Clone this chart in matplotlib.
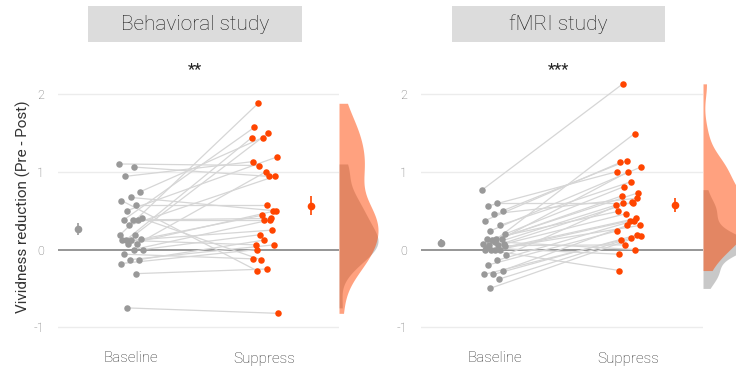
import numpy as np
import matplotlib
matplotlib.use("Agg")
import matplotlib.pyplot as plt
from matplotlib.patches import Rectangle

# paired scores, one entry per participant (baseline[i] <-> suppress[i])
beh_baseline = [1.10, 1.06, 0.94, 0.74, 0.67, 0.63, 0.57, 0.50, 0.40, 0.38,
                0.38, 0.38, 0.31, 0.19, 0.19, 0.12, 0.13, 0.12, 0.12, 0.07,
                0.07, 0.00, 0.00, -0.06, -0.13, -0.13, -0.18, -0.31, -0.75]
beh_suppress = [1.08, 0.94, 1.13, 1.44, 0.50, -0.27, 0.57, 1.19, -0.13, 0.40,
                1.57, 0.38, 0.94, 1.88, 1.50, 1.44, 0.44, 0.25, 0.06, 1.00,
                0.50, 0.19, 0.38, -0.12, 0.12, 0.06, 0.00, -0.25, -0.82]

fmri_baseline = [0.77, 0.60, 0.56, 0.50, 0.46, 0.37, 0.31, 0.24, 0.20, 0.13,
                 0.13, 0.14, 0.12, 0.07, 0.06, 0.06, 0.07, 0.00, 0.00, 0.00,
                 0.00, -0.07, -0.14, -0.20, -0.27, -0.32, -0.32, -0.38, -0.50,
                 0.05, 0.10, 0.02]
fmri_suppress = [2.13, 0.60, 1.00, 1.14, 0.66, 1.12, 0.87, 1.06, 0.81, 1.49,
                 0.49, 1.00, 0.73, 0.69, 0.61, 0.57, 0.46, 0.40, -0.27, 0.37,
                 0.31, 0.60, 0.37, 0.24, 0.31, 0.19, 0.12, 0.15, 0.18, 0.06,
                 0.00, -0.06]

conditions = ["Baseline", "Suppress"]
studies = ["Behavioral study", "fMRI study"]
stars = ["**", "***"]
yticks = [-1, 0, 1, 2]

GREY_PT = "#999999"
ORANGE = "#FF4500"
PAIR = "#d6d6d6"
GRID = "#ececec"
ZERO = "#8e8e8e"
TICK = "#6b6b6b"

plt.rcParams.update({
    "font.family": ["Roboto", "DejaVu Sans"],
    "font.weight": "light",
})

W, H = 736, 368
fig = plt.figure(figsize=(W / 100, H / 100), dpi=100)

YLIM = (-1.15, 2.25)
bottom, top = 339, 74.5            # axes extent in pixels
XLIM = (-0.55, 1.56)


def px(x0, x1):
    return [x0 / W, (H - bottom) / H, (x1 - x0) / W, (bottom - top) / H]


def kde(vals, grid, adjust=0.8):
    vals = np.asarray(vals)
    bw = adjust * vals.std(ddof=1) * len(vals) ** (-1 / 5)
    z = (grid[:, None] - vals[None, :]) / bw
    return np.exp(-0.5 * z ** 2).sum(axis=1)


panels = [
    dict(base=beh_baseline, supp=beh_suppress, ax=(58, 339),
         box=(88, 302), vw=39, ylabel=True),
    dict(base=fmri_baseline, supp=fmri_suppress, ax=(421, 703),
         box=(452, 665), vw=46, ylabel=False),
]

for k, p in enumerate(panels):
    ax = fig.add_axes(px(*p["ax"]))
    base = np.asarray(p["base"])
    supp = np.asarray(p["supp"])
    n = len(base)
    jit = ((np.arange(n) * 0.618034) % 1 - 0.5) * 0.18
    jit2 = ((np.arange(n) * 0.381966 + 0.3) % 1 - 0.5) * 0.2

    for yv in (-1, 1, 2):
        ax.axhline(yv, color=GRID, lw=1.0, zorder=0)
    ax.axhline(0, color=ZERO, lw=1.3, zorder=1)

    for i in range(n):
        ax.plot([0 + jit[i], 1 + jit2[i]], [base[i], supp[i]],
                color=PAIR, lw=0.9, zorder=2)
    ax.scatter(0 + jit, base, s=22, color=GREY_PT, lw=0, zorder=3)
    ax.scatter(1 + jit2, supp, s=22, color=ORANGE, lw=0, zorder=3)

    for xm, vals, c in ((-0.40, base, GREY_PT), (1.35, supp, ORANGE)):
        m = vals.mean()
        se = vals.std(ddof=1) / np.sqrt(len(vals))
        ax.errorbar([xm], [m], yerr=[se], fmt="o", ms=5.5, color=c,
                    ecolor=c, elinewidth=1.2, capsize=0, mew=0, zorder=4)

    ax.set_xlim(*XLIM)
    ax.set_ylim(*YLIM)
    ax.set_xticks([0, 1])
    ax.set_xticklabels(conditions, fontsize=11, color="#333333")
    ax.set_yticks(yticks)
    ax.set_yticklabels([str(t) for t in yticks], fontsize=9, color=TICK)
    ax.tick_params(length=0)
    ax.tick_params(axis="x", pad=9)
    ax.tick_params(axis="y", pad=10)
    for s in ax.spines.values():
        s.set_visible(False)
    ax.patch.set_alpha(0)
    if p["ylabel"]:
        ax.set_ylabel("Vividness reduction (Pre - Post)", fontsize=11,
                      color="#333333", labelpad=2)

    # half violins to the right of the panel
    x0 = p["ax"][1]
    av = fig.add_axes(px(x0, x0 + 60))
    av.set_xlim(0, 60)
    av.set_ylim(*YLIM)
    av.axis("off")
    for vals, c in ((base, "#939393"), (supp, ORANGE)):
        g = np.linspace(vals.min(), vals.max(), 300)
        d = kde(vals, g)
        av.fill_betweenx(g, 0, d / d.max() * p["vw"], color=c, alpha=0.5,
                         lw=0)

    # title box and significance stars
    bx0, bx1 = p["box"]
    fig.patches.append(Rectangle((bx0 / W, (H - 42) / H), (bx1 - bx0) / W,
                                 36 / H, transform=fig.transFigure,
                                 facecolor="#dcdcdc", edgecolor="none"))
    fig.text((bx0 + bx1) / 2 / W, (H - 24) / H, studies[k], fontsize=15,
             color="#1e1e1e", ha="center", va="center")
    fig.text((bx0 + bx1) / 2 / W, (H - 70) / H, stars[k], fontsize=12,
             color="#222222", ha="center", va="center", weight="normal")

fig.savefig("out.png", dpi=100)
